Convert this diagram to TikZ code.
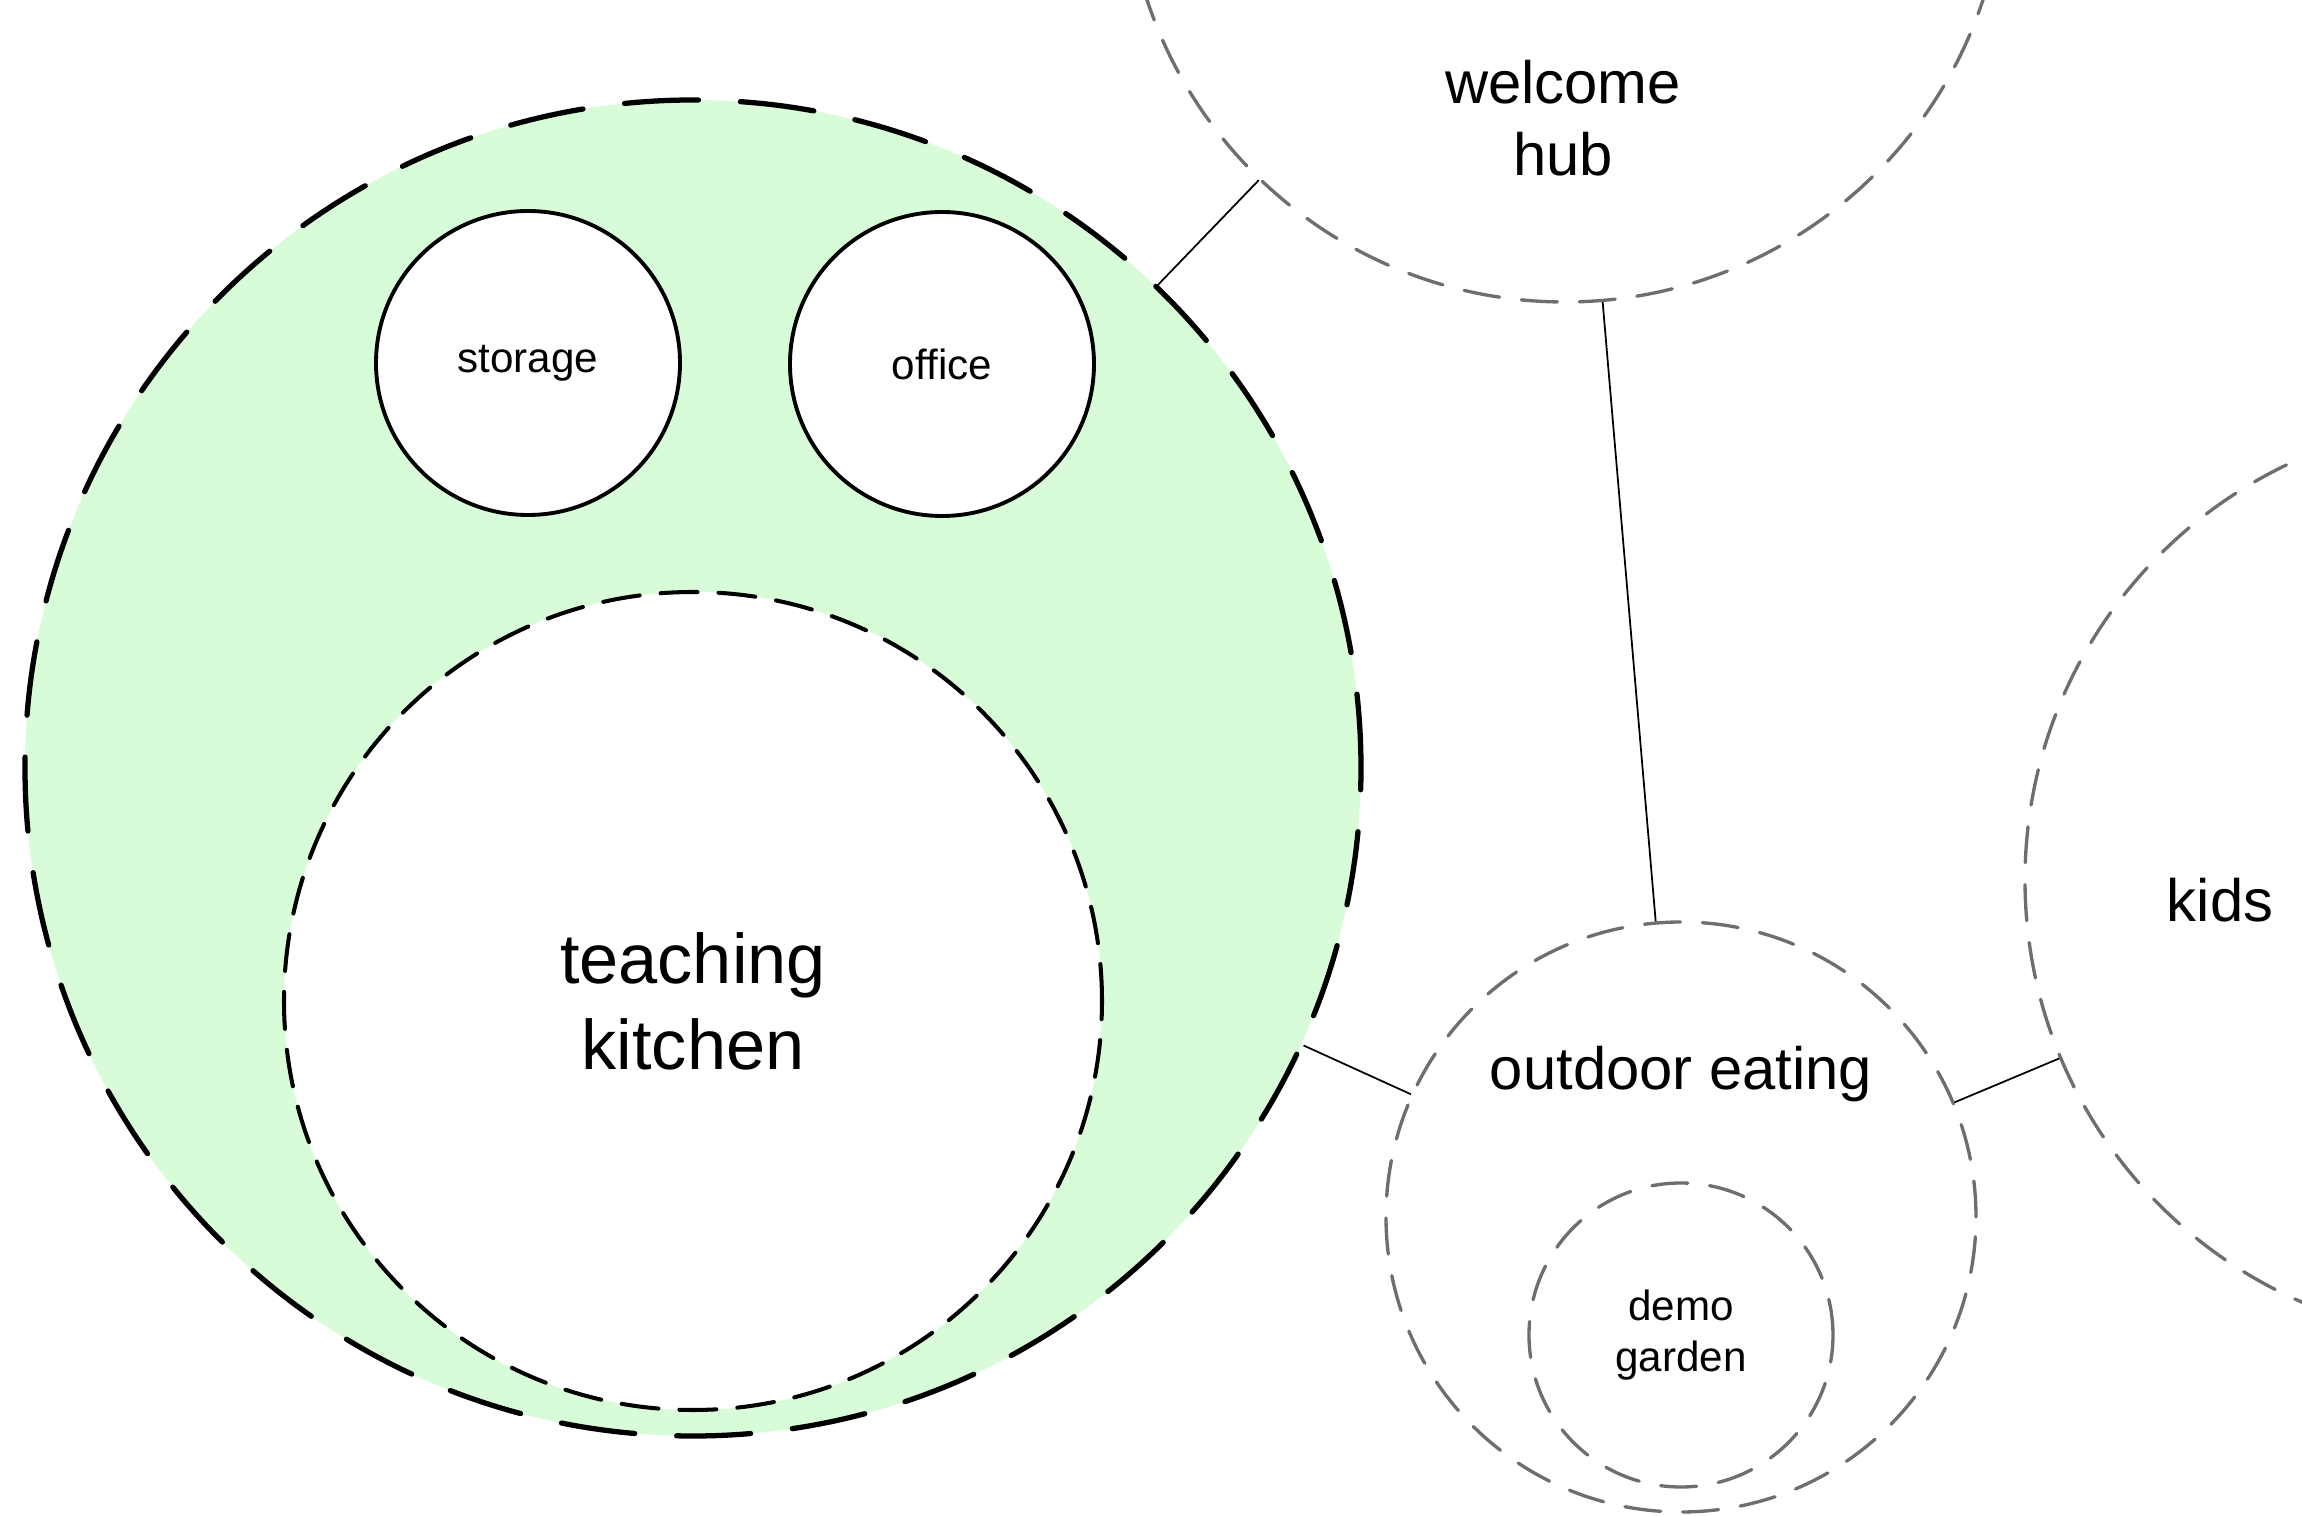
\documentclass[tikz,border=0pt]{standalone}
\usepackage{fontspec}
\setmainfont{Liberation Sans}
\usepackage{xcolor}
\usetikzlibrary{positioning}

\definecolor{zonegreen}{RGB}{217,252,216}
\definecolor{zonegray}{RGB}{110,110,110}

\begin{document}
\begin{tikzpicture}[
    bigzone/.style={draw, circle, fill=zonegreen, line width=1.5pt, line cap=round,
        dash pattern=on 0.74cm off 0.42cm, inner sep=0pt},
    room/.style={draw, circle, fill=white, line width=1.1pt, inner sep=0pt,
        font=\fontsize{12}{14.5}\selectfont},
    innerzone/.style={draw, circle, fill=white, line width=1.15pt, line cap=round,
        dash pattern=on 0.37cm off 0.21cm, inner sep=0pt, align=center,
        font=\fontsize{20}{24.5}\selectfont},
    grayzone/.style={draw=zonegray, circle, line width=0.95pt, line cap=round,
        dash pattern=on 0.36cm off 0.22cm, inner sep=0pt, align=center},
    biglabel/.style={align=center, font=\fontsize{17}{20.6}\selectfont},
    link/.style={line width=0.5pt}
]
    \path[use as bounding box, clip] (0,0) rectangle (23.02,-15.16);

    % kitchen area with its rooms
    \node[bigzone, minimum size=13.36cm] (Kitchen) at (6.93,-7.68) {};
    \node[room, minimum size=3.04cm] (Storage) at (5.28,-3.63) {storage};
    \node[room, minimum size=3.04cm] (Office) at (9.42,-3.64) {office};
    \node[innerzone, minimum size=8.18cm] (Teaching) at (6.93,-10.01) {teaching\\kitchen};

    % outer zones
    \node[grayzone, minimum size=8.8cm] (Welcome) at (15.65,1.38) {};
    \node[biglabel] (WelcomeText) at (15.63,-1.18) {welcome\\hub};

    \node[grayzone, minimum size=5.9cm] (Outdoor) at (16.81,-12.17) {};
    \node[biglabel] (OutdoorText) at (16.81,-10.74) {outdoor eating};
    \node[grayzone, minimum size=3.04cm, font=\fontsize{12}{14.6}\selectfont] (Garden) at (16.81,-13.35) {demo\\garden};

    \node[grayzone, minimum size=9.2cm] (Kids) at (24.85,-8.8) {};
    \node[biglabel] (KidsText) at (22.2,-9.0) {kids};

    % links between zones
    \draw[link] (Kitchen) -- (Welcome);
    \draw[link] (Welcome) -- (Outdoor);
    \draw[link] (Kitchen) -- (Outdoor);
    \draw[link] (Outdoor) -- (Kids);
\end{tikzpicture}
\end{document}
